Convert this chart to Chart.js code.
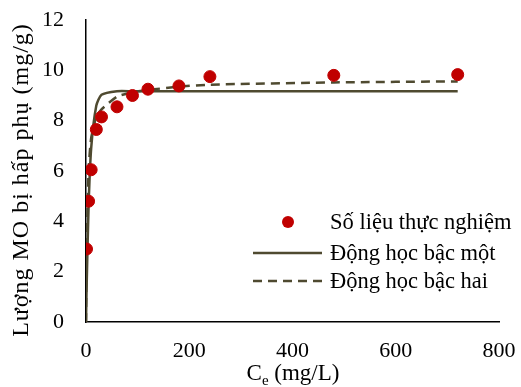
<!DOCTYPE html>
<html>
<head>
<meta charset="utf-8">
<script src="https://cdn.jsdelivr.net/npm/chart.js@4"></script>
<style>
  html, body { margin: 0; padding: 0; background: #fff; }
  #wrap { width: 521px; height: 387px; }
</style>
</head>
<body>
<div id="wrap"><canvas id="chart"></canvas></div>
<script>
// experimental data
var tExp = [1, 5, 10, 20, 30, 60, 90, 120, 180, 240, 480, 720];
var qExp = [2.9, 4.8, 6.05, 7.65, 8.15, 8.55, 9.0, 9.25, 9.38, 9.75, 9.8, 9.83];
// model curves
var tModel = [0, 1, 5, 10, 20, 30, 60, 90, 120, 180, 240, 480, 720];
var qFirst = [0, 1.2, 4.6, 6.9, 8.6, 9.03, 9.17, 9.17, 9.17, 9.17, 9.17, 9.17, 9.17];
var qSecond = [0, 2.5, 6.0, 7.3, 8.15, 8.45, 8.95, 9.13, 9.22, 9.35, 9.43, 9.52, 9.56];

var xTicks = [0, 200, 400, 600, 800];
var yTicks = [0, 2, 4, 6, 8, 10, 12];

var FONT = "'Liberation Serif', 'Times New Roman', serif";
var lineColor = '#4f4a30';
var dotColor = '#c00000';

function pts(xs, ys) {
  return xs.map(function(x, i) { return { x: x, y: ys[i] }; });
}

function noPad(s) {
  s.paddingTop = 0; s.paddingBottom = 0; s.paddingLeft = 0; s.paddingRight = 0;
}

// legend drawn inside the plot, bottom right
var legendPlugin = {
  id: 'innerLegend',
  afterDraw: function(chart) {
    var ctx = chart.ctx;
    var rows = [222, 253, 281];
    ctx.save();
    ctx.font = '22.5px ' + FONT;
    ctx.textBaseline = 'middle';
    chart.data.datasets.forEach(function(ds, i) {
      var y = rows[i];
      if (i === 0) {
        ctx.beginPath();
        ctx.fillStyle = dotColor;
        ctx.arc(288, y, 6, 0, Math.PI * 2);
        ctx.fill();
      } else {
        ctx.beginPath();
        ctx.strokeStyle = lineColor;
        ctx.lineWidth = 2.5;
        ctx.setLineDash(ds.borderDash || []);
        ctx.moveTo(253, y);
        ctx.lineTo(322, y);
        ctx.stroke();
        ctx.setLineDash([]);
      }
      ctx.fillStyle = '#000';
      ctx.fillText(ds.label, 330, y + 1);
    });
    ctx.restore();
  }
};

// axis titles: x title with subscript e, y title rotated
var titlePlugin = {
  id: 'axisTitles',
  afterDraw: function(chart) {
    var ctx = chart.ctx;
    ctx.save();
    ctx.fillStyle = '#000';
    ctx.textBaseline = 'alphabetic';
    ctx.font = '23px ' + FONT;
    var w1 = ctx.measureText('C').width;
    ctx.font = '15px ' + FONT;
    var w2 = ctx.measureText('e').width;
    ctx.font = '23px ' + FONT;
    var w3 = ctx.measureText(' (mg/L)').width;
    var x = 293 - (w1 + w2 + w3) / 2;
    var y = 380;
    ctx.fillText('C', x, y);
    ctx.font = '15px ' + FONT;
    ctx.fillText('e', x + w1, y + 5);
    ctx.font = '23px ' + FONT;
    ctx.fillText(' (mg/L)', x + w1 + w2, y);

    ctx.translate(28, 180);
    ctx.rotate(-Math.PI / 2);
    ctx.textAlign = 'center';
    ctx.font = '24px ' + FONT;
    ctx.letterSpacing = '1px';
    ctx.fillText('Lượng MO bị hấp phụ (mg/g)', 0, 0);
    ctx.restore();
  }
};

new Chart(document.getElementById('chart'), {
  type: 'scatter',
  data: {
    datasets: [{
      label: 'Số liệu thực nghiệm',
      data: pts(tExp, qExp),
      backgroundColor: dotColor,
      borderColor: dotColor,
      pointRadius: 6,
      order: 0
    }, {
      label: 'Động học bậc một',
      type: 'line',
      data: pts(tModel, qFirst),
      borderColor: lineColor,
      borderWidth: 2.5,
      pointRadius: 0,
      fill: false,
      tension: 0.2,
      order: 1
    }, {
      label: 'Động học bậc hai',
      type: 'line',
      data: pts(tModel, qSecond),
      borderColor: lineColor,
      borderWidth: 2.5,
      borderDash: [9, 6],
      pointRadius: 0,
      fill: false,
      tension: 0.2,
      order: 2
    }]
  },
  options: {
    responsive: true,
    maintainAspectRatio: false,
    animation: false,
    layout: { padding: { left: 0, right: 22, top: 20, bottom: 0 } },
    plugins: {
      legend: { display: false },
      tooltip: { enabled: false }
    },
    scales: {
      x: {
        type: 'linear',
        min: 0, max: 800,
        afterBuildTicks: function(s) { s.ticks = xTicks.map(function(v) { return { value: v }; }); },
        afterFit: function(s) { s.height = 65; noPad(s); },
        grid: { display: false, drawTicks: true, tickLength: 6, color: '#000' },
        border: { color: '#000', width: 1.5 },
        ticks: { color: '#000', font: { family: FONT, size: 22 }, padding: 10, maxRotation: 0 }
      },
      y: {
        min: 0, max: 12,
        afterBuildTicks: function(s) { s.ticks = yTicks.map(function(v) { return { value: v }; }); },
        afterFit: function(s) { s.width = 86; noPad(s); },
        grid: { display: false, drawTicks: true, tickLength: 7, color: '#000' },
        border: { color: '#000', width: 1.5 },
        ticks: { color: '#000', font: { family: FONT, size: 22 }, padding: 15 }
      }
    }
  },
  plugins: [legendPlugin, titlePlugin]
});
</script>
</body>
</html>
